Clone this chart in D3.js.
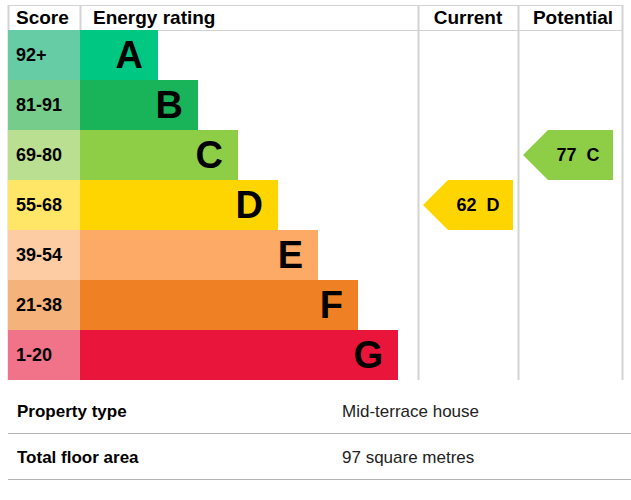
<!DOCTYPE html>
<html><head><meta charset="utf-8">
<script src="https://cdn.jsdelivr.net/npm/d3@7"></script>
<style>body{margin:0;background:#fff}</style>
</head><body>
<svg id="chart" width="631" height="500"></svg>
<script>
var bands = ["A", "B", "C", "D", "E", "F", "G"]
var scores = ["92+", "81-91", "69-80", "55-68", "39-54", "21-38", "1-20"]
var barColors = ["#00c781", "#19b459", "#8dce46", "#ffd500", "#fcaa65", "#ef8023", "#e9153b"]
var scoreColors = ["#66cca6", "#75cc8b", "#badf91", "#ffe666", "#fdcca3", "#f5b37b", "#f0738a"]
var current = {value: 62, band: "D"}
var potential = {value: 77, band: "C"}
var details = [["Property type", "Mid-terrace house"], ["Total floor area", "97 square metres"]]

var svg = d3.select("#chart")
var font = "Arial, 'Liberation Sans', sans-serif"

var y = d3.scaleBand().domain(bands).range([30, 380])
// bar length grows 40px per band
var barEnd = d3.scaleLinear().domain([0, 6]).range([158, 398])

// grid
var grid = "#d3d3d3"
svg.append("line").attr("x1", 8).attr("x2", 622).attr("y1", 5.5).attr("y2", 5.5).attr("stroke", grid)
svg.append("line").attr("x1", 8).attr("x2", 622).attr("y1", 30.5).attr("y2", 30.5).attr("stroke", grid)
;[8, 80, 418, 518, 622].forEach(function(x){
  svg.append("line").attr("x1", x + 0.5).attr("x2", x + 0.5).attr("y1", 5).attr("y2", 380).attr("stroke", grid).attr("stroke-width", 2)
})

// headers
var hdr = [["Score", 16, "start"], ["Energy rating", 93, "start"], ["Current", 468, "middle"], ["Potential", 573, "middle"]]
hdr.forEach(function(h){
  svg.append("text").attr("x", h[1]).attr("y", 24).attr("text-anchor", h[2])
    .attr("font-family", font).attr("font-weight", "bold").attr("font-size", 19).text(h[0])
})

bands.forEach(function(b, i){
  svg.append("rect").attr("x", 8).attr("y", y(b)).attr("width", 72).attr("height", y.bandwidth()).attr("fill", scoreColors[i])
  svg.append("rect").attr("x", 80).attr("y", y(b)).attr("width", barEnd(i) - 80).attr("height", y.bandwidth()).attr("fill", barColors[i])
  svg.append("text").attr("x", 16).attr("y", y(b) + 31).attr("font-family", font).attr("font-weight", "bold")
    .attr("font-size", 18).text(scores[i])
  svg.append("text").attr("x", barEnd(i) - 15).attr("y", y(b) + 38).attr("text-anchor", "end")
    .attr("font-family", font).attr("font-weight", "bold").attr("font-size", 38).text(b)
})

function arrow(r, x0){
  var i = bands.indexOf(r.band)
  var t = y(r.band), h = y.bandwidth()
  var pts = [[x0, t + h / 2], [x0 + 25, t], [x0 + 90, t], [x0 + 90, t + h], [x0 + 25, t + h]]
  svg.append("polygon").attr("points", pts.map(function(p){ return p.join(",") }).join(" ")).attr("fill", barColors[i])
  svg.append("text").attr("x", x0 + 55).attr("y", t + 31).attr("text-anchor", "middle")
    .attr("font-family", font).attr("font-weight", "bold").attr("font-size", 18)
    .attr("xml:space", "preserve").text(r.value + "  " + r.band)
}
arrow(current, 423)
arrow(potential, 523)

// details table
details.forEach(function(d, i){
  var yy = 411 + i * 46
  svg.append("text").attr("x", 17).attr("y", yy + 6).attr("font-family", font).attr("font-weight", "bold").attr("font-size", 17).text(d[0])
  svg.append("text").attr("x", 342).attr("y", yy + 6).attr("font-family", font).attr("font-size", 17).attr("fill", "#222").text(d[1])
  svg.append("line").attr("x1", 8).attr("x2", 631).attr("y1", yy + 22.5).attr("y2", yy + 22.5).attr("stroke", "#b1b4b6")
})
</script>
</body></html>
